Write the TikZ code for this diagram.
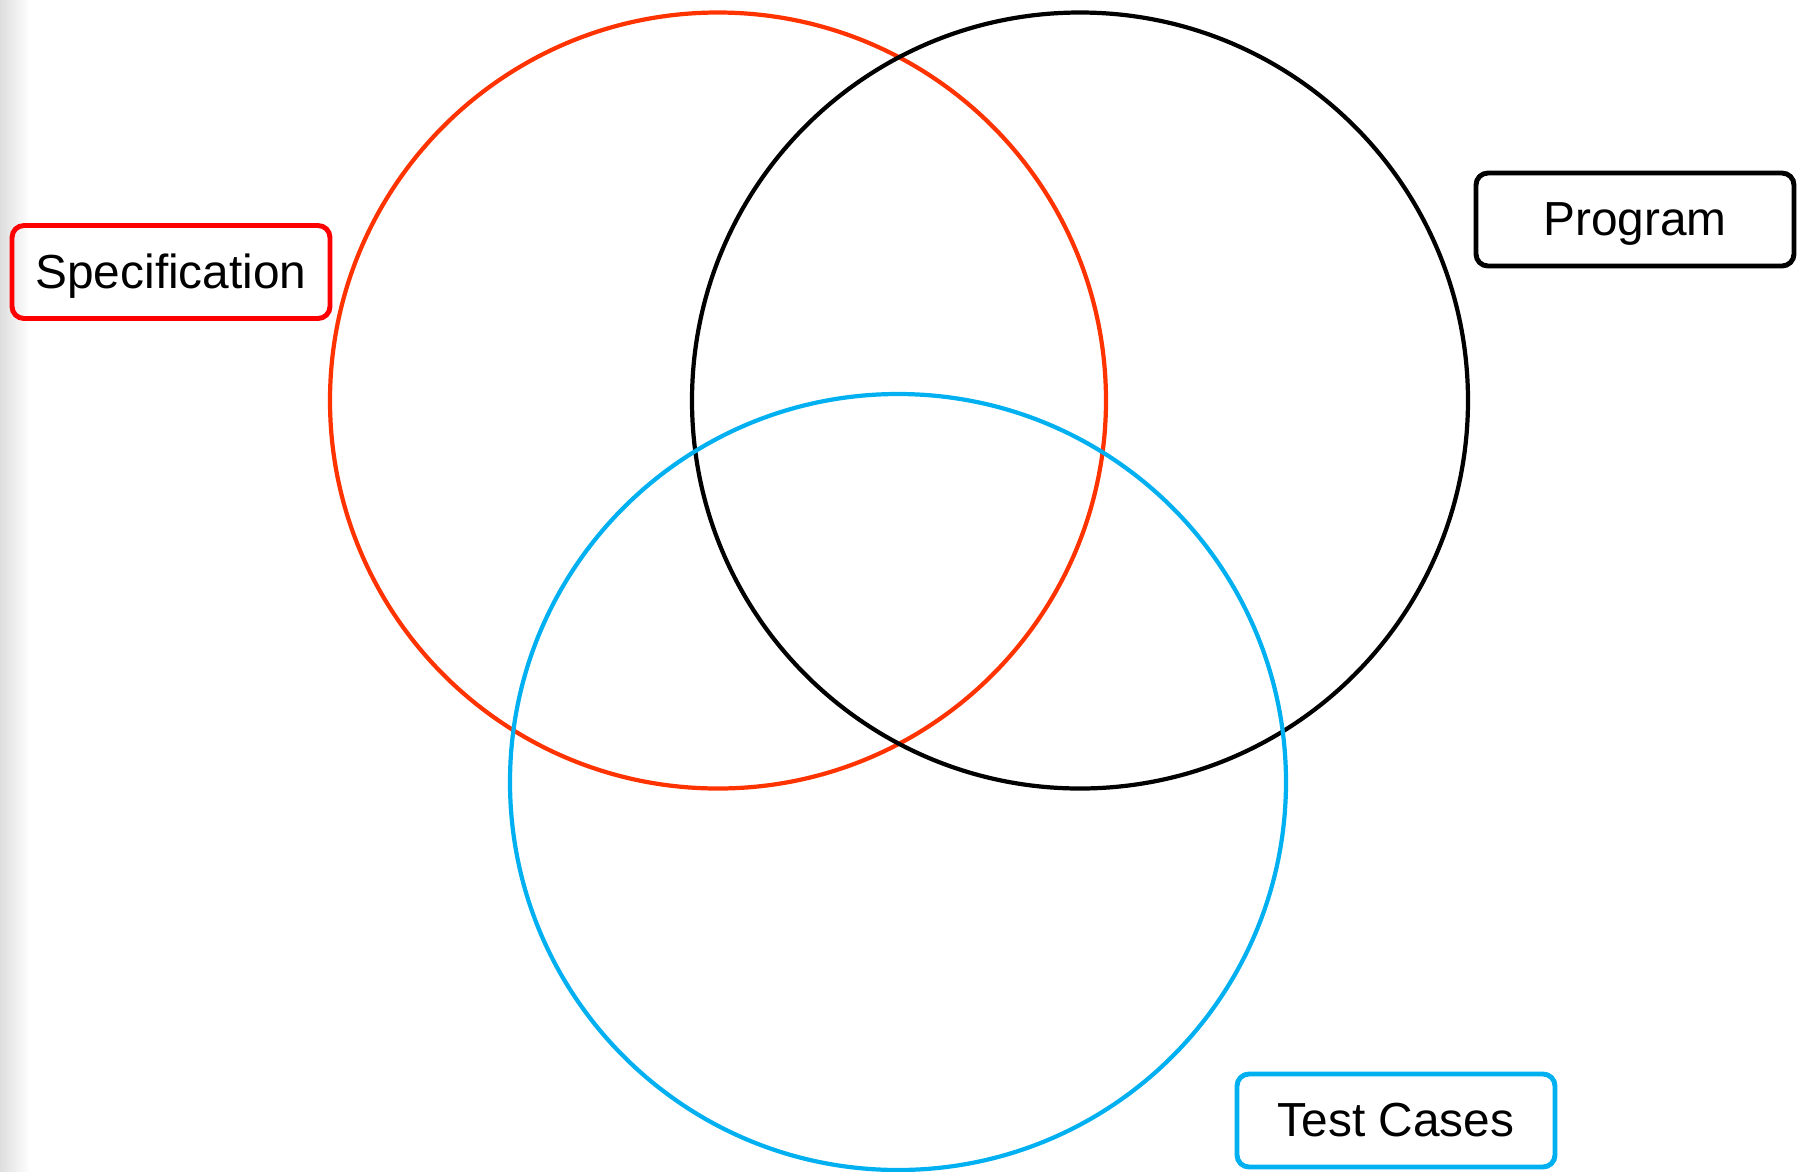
\documentclass[tikz,border=0pt]{standalone}
\usepackage{fontspec}
\setmainfont{Liberation Sans}
\usetikzlibrary{positioning}
\definecolor{specred}{HTML}{FF0000}
\definecolor{specorange}{HTML}{FF3300}
\definecolor{testblue}{HTML}{00B0F0}
\tikzset{namebox/.style={draw,rounded corners=0.12cm,line width=1.4pt,minimum width=3.18cm,minimum height=0.93cm,align=center,
                         text height=0.93em,text depth=0pt,font=\fontsize{13.6}{16}\selectfont},
         setline/.style={line width=1.2pt}
}
\begin{document}
\begin{tikzpicture}[x=1cm,y=-1cm]
\useasboundingbox (0,0) rectangle (17.97,11.71);
\fill[white] (0,0) rectangle (17.97,11.71);
\shade[left color=black!13,right color=white] (0,0) rectangle (0.3,11.71);
% the three sets
\draw[setline,specorange] (7.18,4.005) circle[radius=3.88cm];
\draw[setline,black] (10.80,4.005) circle[radius=3.88cm];
\draw[setline,testblue] (8.98,7.82) circle[radius=3.88cm];
% names
\node (spec) [namebox,draw=specred] at (1.71,2.72) {Specification};
\node (prog) [namebox,draw=black] at (16.35,2.195) {Program};
\node (test) [namebox,draw=testblue] at (13.96,11.205) {Test Cases};
\end{tikzpicture}
\end{document}
